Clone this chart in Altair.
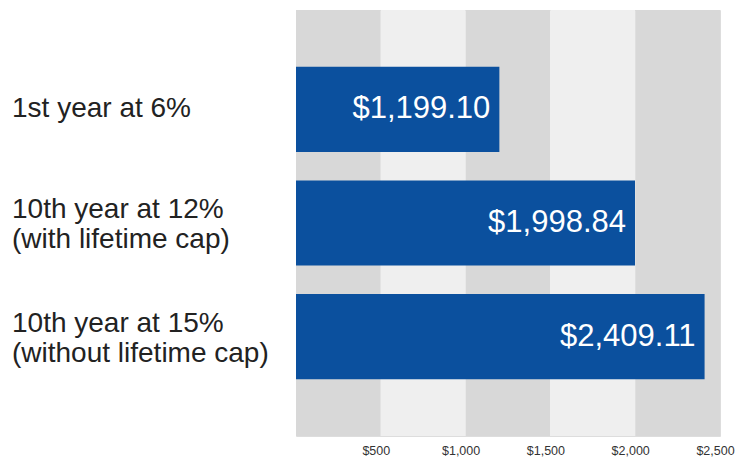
import altair as alt
import pandas as pd

categories = ["1st year at 6%", "10th year at 12%\n(with lifetime cap)", "10th year at 15%\n(without lifetime cap)"]
line_counts = [1, 2, 2]
payments = [1199.10, 1998.84, 2409.11]

band_starts = [0, 500, 1000, 1500, 2000]
band_ends = [500, 1000, 1500, 2000, 2500]
band_colors = ["#d8d8d8", "#efefef", "#d8d8d8", "#efefef", "#d8d8d8"]
tick_values = [500, 1000, 1500, 2000, 2500]

bars_df = pd.DataFrame({"category": categories, "payment": payments, "lines": line_counts})
bands_df = pd.DataFrame({"start": band_starts, "end": band_ends, "color": band_colors})

W, H = 424, 426
xscale = alt.Scale(domain=[0, 2500], nice=False, zero=True)
xaxis = alt.Axis(values=tick_values, format="$,.0f", title=None, grid=False, ticks=False,
                 domain=False, labelFont="Liberation Sans", labelFontSize=12.5,
                 labelColor="#333333", labelPadding=8, labelOffset=-5, labelFlush=False)
yscale = alt.Scale(domain=categories, paddingInner=0.25, paddingOuter=0.5)

bands = alt.Chart(bands_df).mark_rect().encode(
    x=alt.X("start:Q", scale=xscale, axis=xaxis),
    x2="end:Q",
    y=alt.value(0),
    y2=alt.value(H),
    color=alt.Color("color:N", scale=None),
)

bars = alt.Chart(bars_df).mark_bar(color="#0b509e").encode(
    x=alt.X("payment:Q", scale=xscale, axis=xaxis),
    y=alt.Y("category:N", scale=yscale, axis=None, sort=categories),
)

values = alt.Chart(bars_df).mark_text(
    align="right", baseline="middle", dx=-9, color="white",
    font="Liberation Sans", fontSize=31,
).encode(
    x=alt.X("payment:Q", scale=xscale, axis=xaxis),
    y=alt.Y("category:N", scale=yscale, axis=None, sort=categories),
    text=alt.Text("payment:Q", format="$,.2f"),
)

label_style = dict(align="left", baseline="middle", lineBreak="\n", lineHeight=30,
                   color="#222222", font="Liberation Sans", fontSize=28)

labels_one = alt.Chart(bars_df).transform_filter("datum.lines == 1").mark_text(
    dy=0, **label_style
).encode(
    x=alt.value(-284),
    y=alt.Y("category:N", scale=yscale, axis=None, sort=categories),
    text="category:N",
)

labels_two = alt.Chart(bars_df).transform_filter("datum.lines == 2").mark_text(
    dy=-13, **label_style
).encode(
    x=alt.value(-284),
    y=alt.Y("category:N", scale=yscale, axis=None, sort=categories),
    text="category:N",
)

chart = alt.layer(bands, bars, values, labels_one, labels_two).properties(
    width=W, height=H,
    autosize=alt.AutoSizeParams(type="none"),
    padding={"left": 288, "top": 2, "right": 15, "bottom": 25},
).configure_view(stroke=None).configure(background="white")

chart.save("out.html", embed_options={"renderer": "svg", "actions": False})
